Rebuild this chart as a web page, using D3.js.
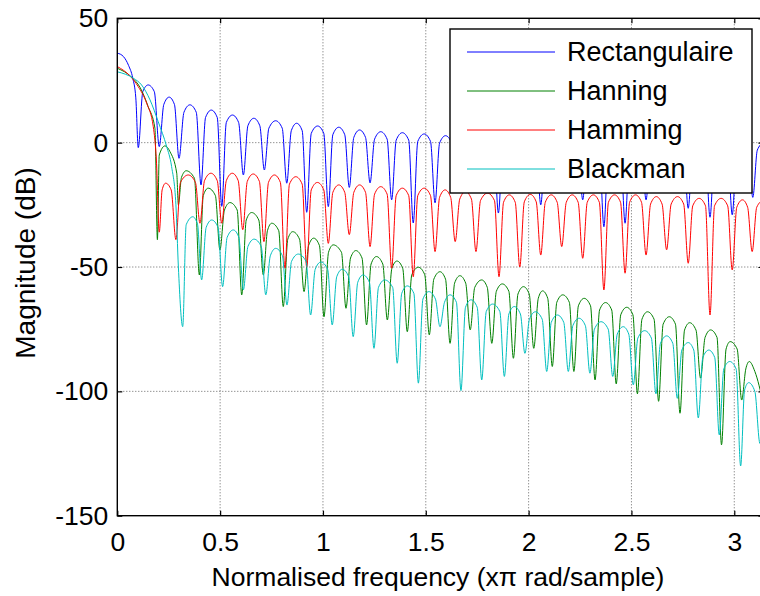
<!DOCTYPE html>
<html>
<head>
<meta charset="utf-8">
<script src="https://cdn.jsdelivr.net/npm/d3@7"></script>
<style>
  html, body { margin: 0; padding: 0; background: #fff; }
  svg { display: block; }
  text { font-family: "Liberation Sans", Arial, Helvetica, sans-serif; fill: #000; }
</style>
</head>
<body>
<svg id="chart" width="760" height="596"></svg>
<script>
// Window spectra: magnitude (dB) against normalised frequency (rad/sample)
const xTicks = [0, 0.5, 1, 1.5, 2, 2.5, 3];
const yTicks = [-150, -100, -50, 0, 50];
const seriesNames = ["Rectangulaire", "Hanning", "Hamming", "Blackman"];
const seriesColors = ["#0000ff", "#008000", "#ff0000", "#00bfbf"];

// [frequency, magnitude dB] vertices of each spectrum
const rectangulaire = [
  [0,36],[0.03,34.6],[0.055,31],[0.075,26],[0.09,18],
  [0.102,-2],[0.124,20.5],[0.150,23.2],[0.180,20.5],
  [0.204,-1.6],[0.226,15.3],[0.252,18.3],[0.278,15.3],
  [0.300,-6.3],[0.324,12.2],[0.353,15.2],[0.384,12.2],
  [0.407,-17],[0.429,10.1],[0.457,13.1],[0.486,10.1],
  [0.508,-25.6],[0.530,8.1],[0.560,11.1],[0.590,8.1],
  [0.613,-13],[0.635,6.8],[0.664,9.8],[0.693,6.8],
  [0.715,-11],[0.737,5.8],[0.770,8.8],[0.802,5.8],
  [0.824,-16.3],[0.846,4.8],[0.872,7.8],[0.899,4.8],
  [0.921,-28],[0.943,3.7],[0.974,6.7],[1.004,3.7],
  [1.026,-25.7],[1.048,3.2],[1.077,6.2],[1.106,3.2],
  [1.128,-18],[1.150,2.1],[1.178,5.1],[1.207,2.1],
  [1.229,-16.2],[1.251,1.4],[1.281,4.4],[1.312,1.4],
  [1.334,-23],[1.356,1.0],[1.386,4.0],[1.417,1.0],
  [1.439,-32.3],[1.461,0.5],[1.492,3.5],[1.523,0.5],
  [1.545,-24.2],[1.567,-0.2],[1.596,2.8],[1.626,-0.2],
  [1.648,-15],[1.670,-0.5],[1.700,2.5],[1.729,-0.5],
  [1.751,-12],[1.773,-0.8],[1.802,2.2],[1.831,-0.8],
  [1.853,-28.3],[1.875,-1.1],[1.905,1.9],[1.935,-1.1],
  [1.957,-14],[1.979,-1.4],[2.008,1.6],[2.037,-1.4],
  [2.059,-25],[2.081,-1.6],[2.111,1.4],[2.141,-1.6],
  [2.163,-16],[2.185,-1.9],[2.213,1.1],[2.241,-1.9],
  [2.263,-23],[2.285,-2.1],[2.315,0.9],[2.344,-2.1],
  [2.366,-33.8],[2.388,-2.3],[2.418,0.7],[2.447,-2.3],
  [2.469,-32.4],[2.491,-2.5],[2.520,0.5],[2.549,-2.5],
  [2.571,-23],[2.593,-2.6],[2.625,0.4],[2.656,-2.6],
  [2.678,-14],[2.700,-2.7],[2.727,0.3],[2.754,-2.7],
  [2.776,-26.4],[2.798,-2.8],[2.829,0.2],[2.860,-2.8],
  [2.882,-30],[2.904,-2.9],[2.936,0.1],[2.968,-2.9],
  [2.990,-29],[3.012,-2.95],[3.040,0.05],[3.068,-2.95],
  [3.090,-22],[3.112,-3],[3.1416,0]
];

const hanning = [
  [0,29.9],[0.07,26.3],[0.11,22.3],[0.15,14.5],[0.183,5.8],
  [0.195,-39],[0.204,-5],[0.232,-1.3],[0.256,-3.6],[0.289,-12.3],
  [0.297,-25],[0.312,-14],[0.335,-11.3],[0.375,-14.3],
  [0.399,-53.2],[0.418,-21.3],[0.442,-18.3],[0.477,-21.3],
  [0.499,-43.1],[0.521,-27.1],[0.548,-24.1],[0.583,-27.1],
  [0.605,-61.2],[0.627,-31.1],[0.653,-28.1],[0.688,-31.1],
  [0.710,-53.2],[0.730,-35.4],[0.751,-32.4],[0.785,-35.4],
  [0.807,-65.9],[0.829,-38.8],[0.853,-35.8],[0.886,-38.8],
  [0.908,-59.9],[0.930,-41.4],[0.955,-38.4],[0.983,-41.4],
  [1.005,-70],[1.027,-44.1],[1.050,-41.1],[1.090,-44.1],
  [1.112,-66.6],[1.134,-46.4],[1.160,-43.4],[1.190,-46.4],
  [1.212,-73.3],[1.234,-48.8],[1.260,-45.8],[1.291,-48.8],
  [1.313,-71.3],[1.335,-50.6],[1.360,-47.6],[1.388,-50.6],
  [1.410,-76],[1.432,-53.1],[1.464,-50.1],[1.495,-53.1],
  [1.517,-77.3],[1.539,-54.9],[1.569,-51.9],[1.596,-54.9],
  [1.618,-80.7],[1.640,-56.5],[1.666,-53.5],[1.694,-56.5],
  [1.716,-75.3],[1.738,-58.2],[1.772,-55.2],[1.799,-58.2],
  [1.821,-80.7],[1.843,-59.8],[1.872,-56.8],[1.904,-59.8],
  [1.926,-86.7],[1.948,-60.9],[1.975,-57.9],[2.003,-60.9],
  [2.025,-82.7],[2.047,-62.6],[2.068,-59.6],[2.093,-62.6],
  [2.115,-90],[2.137,-64.2],[2.166,-61.2],[2.198,-64.2],
  [2.220,-92],[2.242,-65.6],[2.270,-62.6],[2.301,-65.6],
  [2.323,-95.4],[2.345,-67.3],[2.374,-64.3],[2.404,-67.3],
  [2.426,-97],[2.448,-69.2],[2.477,-66.2],[2.507,-69.2],
  [2.529,-101],[2.551,-71],[2.578,-68],[2.610,-71],
  [2.632,-104],[2.654,-73],[2.684,-70],[2.714,-73],
  [2.736,-108.8],[2.758,-75.4],[2.783,-72.4],[2.814,-75.4],
  [2.836,-94.7],[2.858,-78.3],[2.885,-75.3],[2.916,-78.3],
  [2.938,-121.5],[2.960,-83],[2.980,-80],[3.014,-83],
  [3.036,-103.5],[3.056,-91],[3.073,-88],[3.100,-92],
  [3.1416,-105]
];

const hamming = [
  [0,30.6],[0.062,26.8],[0.102,22.5],[0.143,15.8],[0.175,6.4],[0.190,-7],
  [0.204,-36],[0.218,-19],[0.235,-16.3],[0.262,-19],
  [0.285,-39],[0.307,-16],[0.345,-13],[0.380,-16],
  [0.402,-32.4],[0.424,-15.3],[0.455,-12.3],[0.486,-15.3],
  [0.508,-32.4],[0.530,-15.3],[0.559,-12.3],[0.588,-15.3],
  [0.610,-35],[0.632,-15.6],[0.661,-12.6],[0.691,-15.6],
  [0.713,-39.8],[0.735,-16],[0.764,-13],[0.793,-16],
  [0.815,-50.5],[0.837,-16.7],[0.868,-13.7],[0.899,-16.7],
  [0.921,-50.1],[0.943,-19],[0.973,-16],[1.004,-19],
  [1.026,-40.5],[1.048,-20],[1.077,-17],[1.106,-20],
  [1.128,-37],[1.150,-20],[1.178,-17],[1.207,-20],
  [1.229,-41.8],[1.251,-20.7],[1.281,-17.7],[1.312,-20.7],
  [1.334,-50.5],[1.356,-21.3],[1.386,-18.3],[1.417,-21.3],
  [1.439,-53.9],[1.461,-21.3],[1.492,-18.3],[1.523,-21.3],
  [1.545,-43.8],[1.567,-22],[1.594,-19],[1.621,-22],
  [1.643,-39.8],[1.665,-22.7],[1.693,-19.7],[1.722,-22.7],
  [1.744,-43.8],[1.766,-23.3],[1.800,-20.3],[1.834,-23.3],
  [1.856,-53.9],[1.878,-24],[1.906,-21],[1.935,-24],
  [1.957,-50],[1.979,-23.8],[2.008,-20.8],[2.037,-23.8],
  [2.059,-45.2],[2.081,-24],[2.110,-21],[2.139,-24],
  [2.161,-41.8],[2.183,-24],[2.212,-21],[2.241,-24],
  [2.263,-46.5],[2.285,-24],[2.315,-21],[2.344,-24],
  [2.366,-59.2],[2.388,-24],[2.418,-21],[2.447,-24],
  [2.469,-52.5],[2.491,-24],[2.520,-21],[2.549,-24],
  [2.571,-45.2],[2.593,-24.7],[2.621,-21.7],[2.649,-24.7],
  [2.671,-43.1],[2.693,-24.7],[2.724,-21.7],[2.754,-24.7],
  [2.776,-48.5],[2.798,-25.4],[2.829,-22.4],[2.860,-25.4],
  [2.882,-69.3],[2.904,-25.4],[2.936,-22.4],[2.968,-25.4],
  [2.990,-51.2],[3.012,-26],[3.040,-23],[3.065,-26],
  [3.087,-43.8],[3.109,-26],[3.1416,-23]
];

const blackman = [
  [0,28.5],[0.078,25.9],[0.118,23.2],[0.159,17.2],[0.199,8.4],[0.240,-1.6],[0.264,-9.6],[0.285,-25],[0.297,-50],
  [0.318,-74],[0.335,-33],[0.367,-29.8],[0.390,-32.8],
  [0.410,-55.2],[0.432,-34.1],[0.459,-31.1],[0.490,-34.1],
  [0.512,-57.9],[0.534,-38.1],[0.564,-35.1],[0.591,-38.1],
  [0.613,-59.2],[0.635,-41.8],[0.665,-38.8],[0.700,-41.8],
  [0.722,-61.2],[0.744,-45.5],[0.770,-42.5],[0.803,-45.5],
  [0.825,-65.3],[0.847,-47.8],[0.880,-44.8],[0.918,-47.8],
  [0.940,-69.3],[0.962,-51],[0.990,-48],[1.023,-51],
  [1.045,-73.3],[1.067,-53.9],[1.094,-50.9],[1.125,-53.9],
  [1.147,-78],[1.169,-56.2],[1.195,-53.2],[1.226,-56.2],
  [1.248,-82.7],[1.270,-58.2],[1.300,-55.2],[1.339,-58.2],
  [1.361,-88.7],[1.383,-60.6],[1.410,-57.6],[1.442,-60.6],
  [1.464,-96.7],[1.486,-62.9],[1.515,-59.9],[1.547,-62.9],
  [1.569,-74],[1.591,-64.2],[1.618,-61.2],[1.649,-64.2],
  [1.671,-99.7],[1.693,-66.2],[1.720,-63.2],[1.750,-66.2],
  [1.772,-95.4],[1.794,-67.9],[1.825,-64.9],[1.860,-67.9],
  [1.882,-94],[1.904,-68.9],[1.930,-65.9],[1.960,-68.9],
  [1.982,-84.7],[2.004,-71],[2.033,-68],[2.066,-71],
  [2.088,-92],[2.110,-72.3],[2.140,-69.3],[2.171,-72.3],
  [2.193,-92],[2.215,-73.6],[2.245,-70.6],[2.276,-73.6],
  [2.298,-92.7],[2.320,-75],[2.352,-72],[2.387,-75],
  [2.409,-94],[2.431,-77],[2.460,-74],[2.487,-77],
  [2.509,-97.4],[2.531,-78.6],[2.564,-75.6],[2.597,-78.6],
  [2.619,-101],[2.641,-80.7],[2.671,-77.7],[2.701,-80.7],
  [2.723,-102.8],[2.745,-83.4],[2.776,-80.4],[2.803,-83.4],
  [2.825,-110.7],[2.847,-86.4],[2.876,-83.4],[2.905,-86.4],
  [2.927,-117.5],[2.949,-91],[2.978,-88],[3.009,-91],
  [3.031,-130],[3.050,-99.5],[3.070,-96.5],[3.100,-100],
  [3.125,-121],[3.1416,-108]
];

const seriesData = [rectangulaire, hanning, hamming, blackman];

const W = 760, H = 596;
const plot = { left: 117.3, right: 763.4, top: 18.3, bottom: 515.7 };

const svg = d3.select("#chart");
svg.append("rect").attr("width", W).attr("height", H).attr("fill", "#fff");

const x = d3.scaleLinear().domain([0, Math.PI]).range([plot.left, plot.right]);
const y = d3.scaleLinear().domain([-150, 50]).range([plot.bottom, plot.top]);

svg.append("defs").append("clipPath").attr("id", "plotClip")
  .append("rect")
  .attr("x", plot.left).attr("y", plot.top)
  .attr("width", plot.right - plot.left).attr("height", plot.bottom - plot.top);

// dotted grid
const grid = svg.append("g").attr("stroke", "#666").attr("stroke-width", 1)
  .attr("stroke-dasharray", "1,2").attr("fill", "none");
grid.selectAll("line.gx").data(xTicks.filter(d => d > 0)).join("line")
  .attr("x1", d => x(d)).attr("x2", d => x(d))
  .attr("y1", plot.top).attr("y2", plot.bottom);
grid.selectAll("line.gy").data(yTicks.filter(d => d > -150 && d < 50)).join("line")
  .attr("y1", d => y(d)).attr("y2", d => y(d))
  .attr("x1", plot.left).attr("x2", plot.right);

// spectra
const line = d3.line().x(d => x(d[0])).y(d => y(d[1])).curve(d3.curveMonotoneX);
const curves = svg.append("g").attr("clip-path", "url(#plotClip)");
seriesData.forEach((data, i) => {
  curves.append("path")
    .datum(data)
    .attr("d", line)
    .attr("fill", "none")
    .attr("stroke", seriesColors[i])
    .attr("stroke-width", 1)
    .attr("stroke-linejoin", "round");
});

// axes with inward ticks on all four sides
const fontSize = 26.5;
const plainNumber = d => String(d);
const bottomAxis = d3.axisBottom(x).tickValues(xTicks).tickSizeInner(-5).tickSizeOuter(0)
  .tickPadding(16).tickFormat(plainNumber);
const leftAxis = d3.axisLeft(y).tickValues(yTicks).tickSizeInner(-5).tickSizeOuter(0)
  .tickPadding(9).tickFormat(plainNumber);
const topAxis = d3.axisTop(x).tickValues(xTicks).tickSizeInner(-5).tickSizeOuter(0).tickFormat("");
const rightAxis = d3.axisRight(y).tickValues(yTicks).tickSizeInner(-5).tickSizeOuter(0).tickFormat("");

function styleAxis(g) {
  g.select(".domain").remove();
  g.selectAll(".tick line").attr("stroke", "#000").attr("stroke-width", 1.2);
  g.selectAll(".tick text").attr("font-size", fontSize)
    .attr("font-family", "Liberation Sans, Arial, sans-serif").attr("fill", "#000");
}
svg.append("g").attr("transform", `translate(0,${plot.bottom})`).call(bottomAxis).call(styleAxis);
svg.append("g").attr("transform", `translate(${plot.left},0)`).call(leftAxis).call(styleAxis);
svg.append("g").attr("transform", `translate(0,${plot.top})`).call(topAxis).call(styleAxis);
svg.append("g").attr("transform", `translate(${plot.right},0)`).call(rightAxis).call(styleAxis);

// axes box
svg.append("rect")
  .attr("x", plot.left).attr("y", plot.top)
  .attr("width", plot.right - plot.left).attr("height", plot.bottom - plot.top)
  .attr("fill", "none").attr("stroke", "#000").attr("stroke-width", 1.4);

// axis titles
svg.append("text")
  .attr("x", 438).attr("y", 586)
  .attr("text-anchor", "middle").attr("font-size", fontSize)
  .text("Normalised frequency (xπ rad/sample)");
svg.append("text")
  .attr("transform", `translate(35,263) rotate(-90)`)
  .attr("text-anchor", "middle").attr("font-size", 28)
  .text("Magnitude (dB)");

// legend
const legend = svg.append("g");
legend.append("rect")
  .attr("x", 450).attr("y", 29).attr("width", 302).attr("height", 164)
  .attr("fill", "#fff").attr("stroke", "#000").attr("stroke-width", 1.4);
const rowY = d3.scalePoint().domain(seriesNames).range([52, 169]);
seriesNames.forEach((name, i) => {
  legend.append("line")
    .attr("x1", 467).attr("x2", 555)
    .attr("y1", rowY(name)).attr("y2", rowY(name))
    .attr("stroke", seriesColors[i]).attr("stroke-width", 1);
  legend.append("text")
    .attr("x", 567).attr("y", rowY(name)).attr("dy", "0.35em")
    .attr("font-size", 27)
    .text(name);
});
</script>
</body>
</html>
